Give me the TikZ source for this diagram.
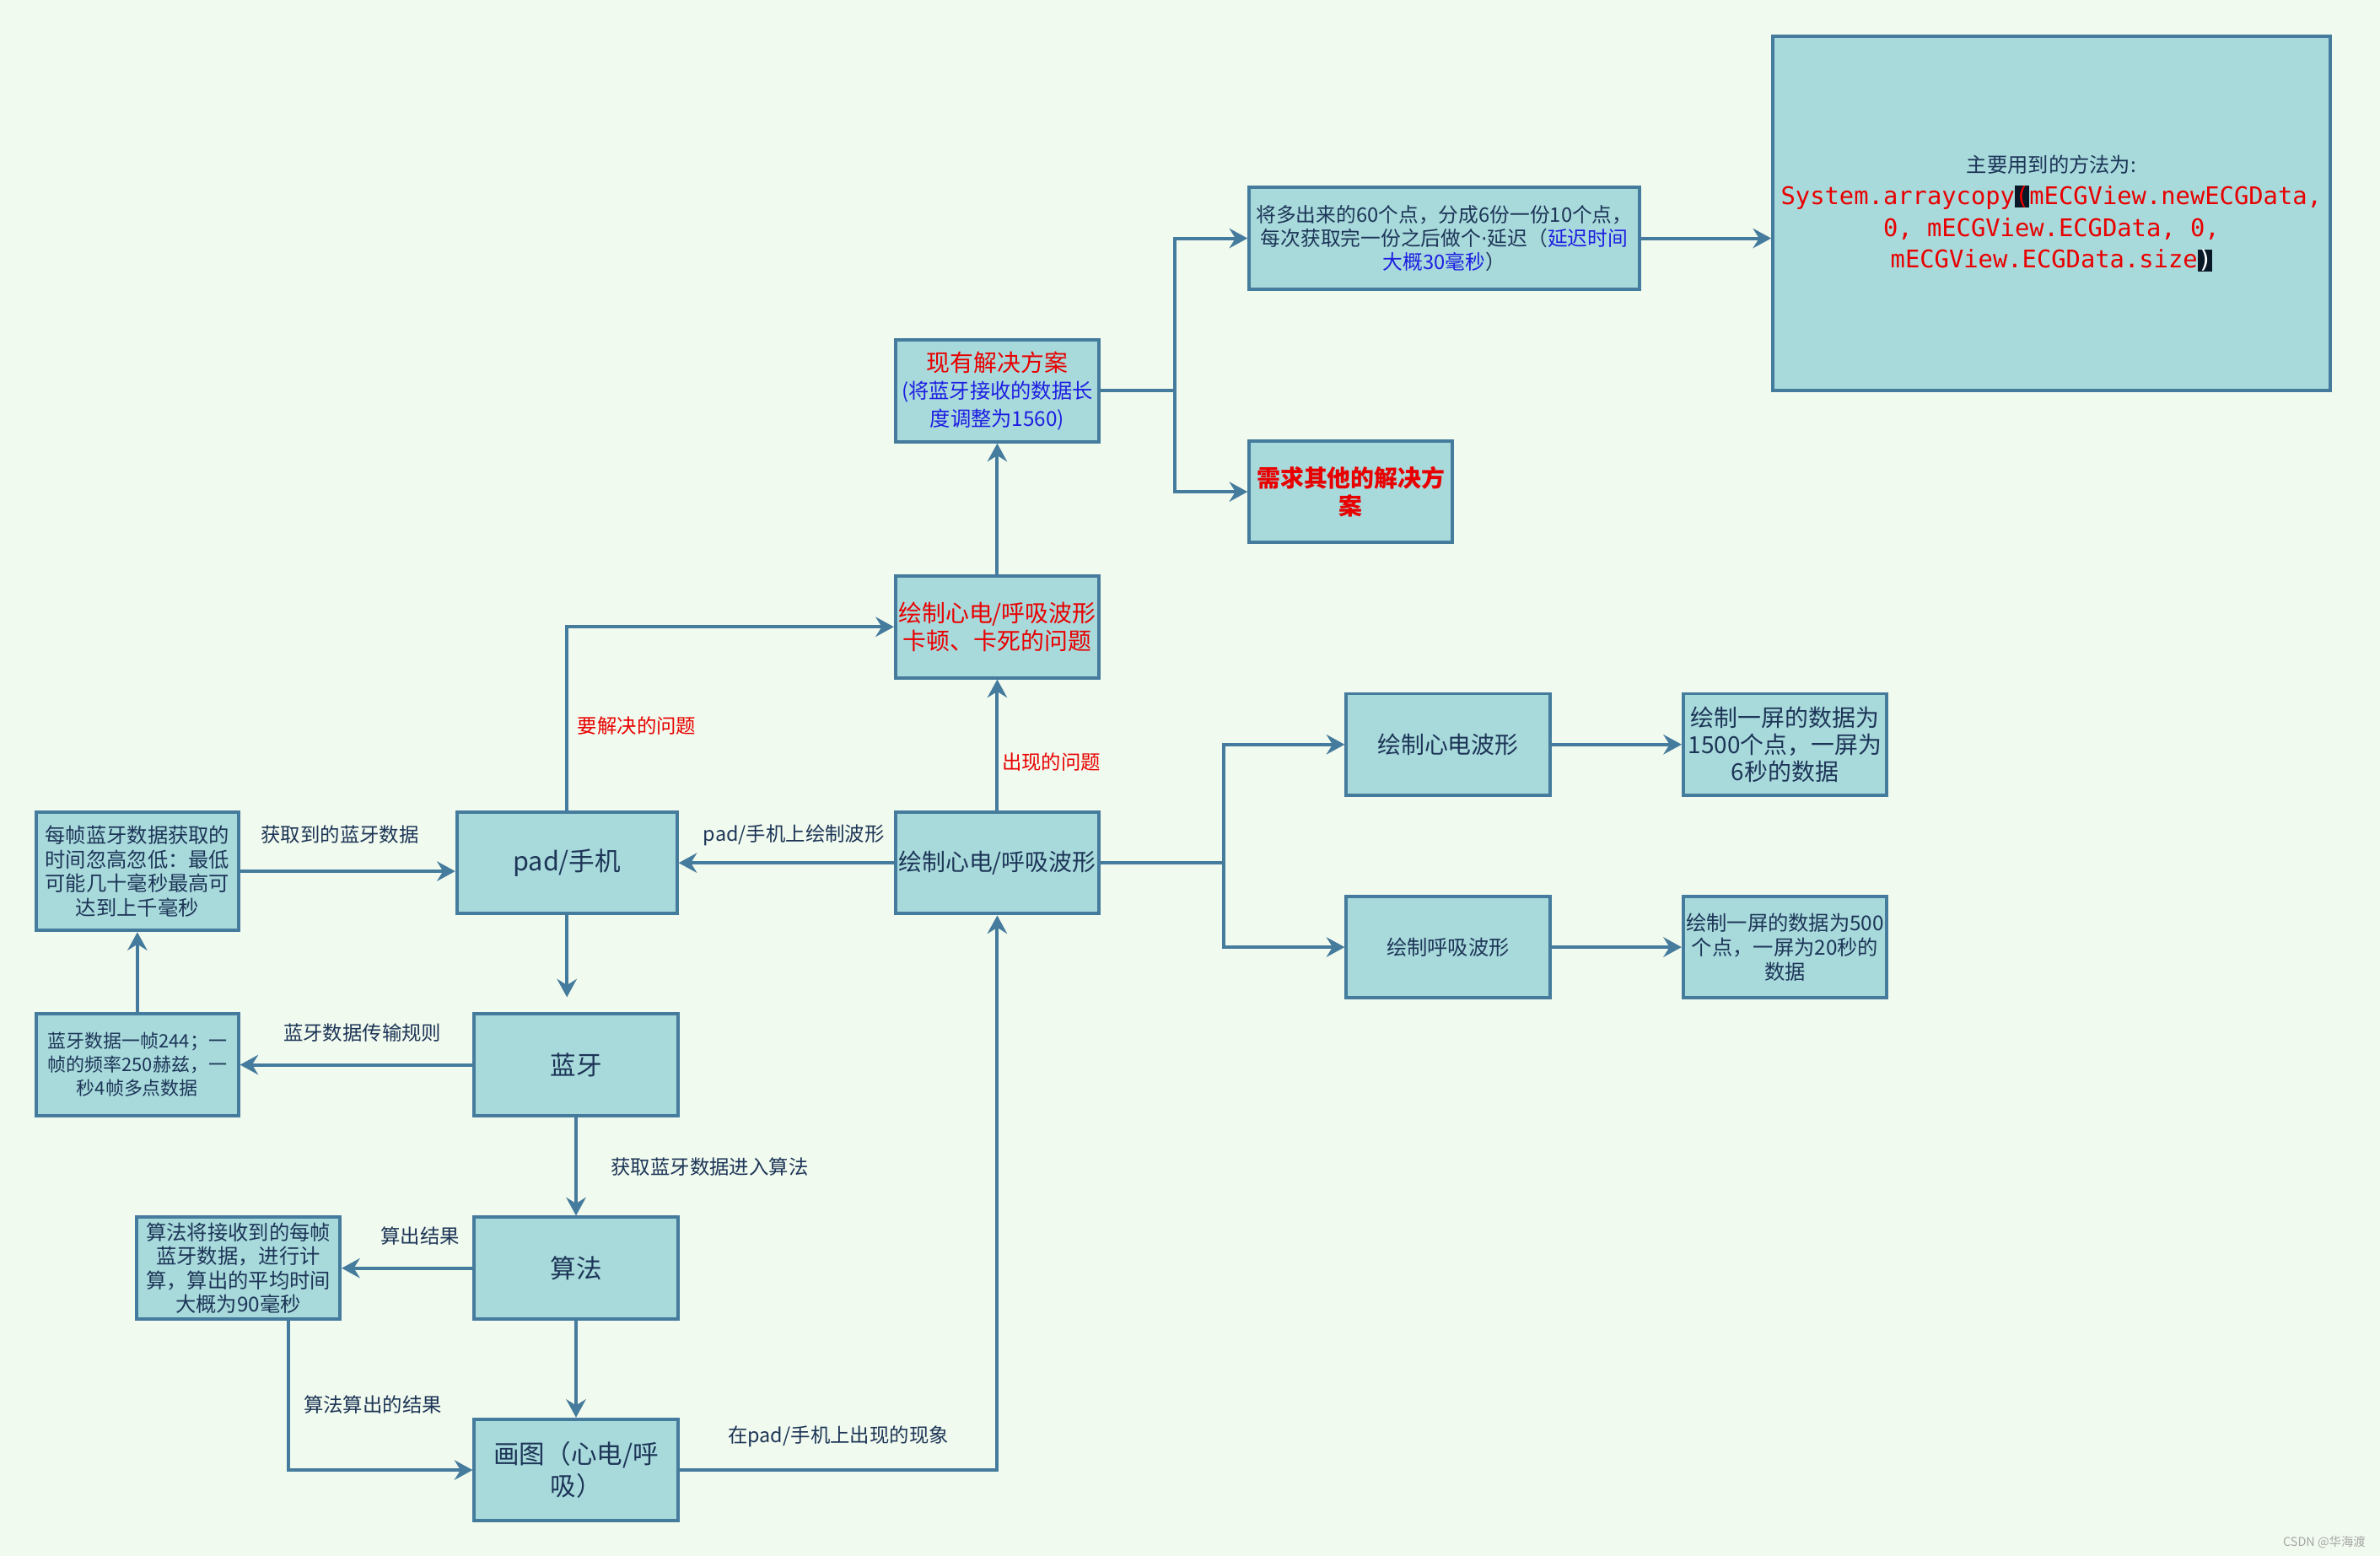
\documentclass[tikz,border=0pt]{standalone}
\usepackage{fontspec}
\setmainfont{Noto Sans CJK SC}
\newfontfamily\codefont{DejaVu Sans Mono}
\newfontfamily\dotfont{DejaVu Sans}
\usetikzlibrary{arrows.meta}

\definecolor{bgcol}{RGB}{241,250,238}
\definecolor{boxfill}{RGB}{168,218,220}
\definecolor{linecol}{RGB}{69,123,157}
\definecolor{inkcol}{RGB}{29,53,87}
\definecolor{redtxt}{RGB}{232,0,0}
\definecolor{bluetxt}{RGB}{30,30,225}
\definecolor{hlcol}{RGB}{8,24,38}

\newcommand\fsbig{\fontsize{17}{21}\selectfont}
\newcommand\fsmid{\fontsize{15.5}{18.5}\selectfont}
\newcommand\fssmall{\fontsize{13.5}{15.8}\selectfont}
\newcommand\fscode{\fontsize{16}{21}\selectfont}
\newcommand\hlpar[2]{{\fboxsep=0pt\colorbox{hlcol}{\textcolor{#1}{#2}}}}

\tikzset{
    box/.style={draw=linecol, fill=boxfill, line width=2.2pt, text=inkcol, align=center,
        minimum width=134pt, minimum height=67pt, inner sep=1pt},
    arr/.style={draw=linecol, line width=2.2pt, -{Stealth[length=12pt, width=13pt, inset=4pt]}},
    lbl/.style={text=inkcol, font=\fontsize{13}{15}\selectfont, inner sep=2pt},
}

\begin{document}
\begin{tikzpicture}[x=1pt, y=-1pt]
        \fill[bgcol] (0, 0) rectangle (1568, 1025);
        \useasboundingbox (0, 0) rectangle (1568, 1025);
        \node[box, minimum width=133pt, minimum height=78pt, font=\fssmall] (1) at (90.5, 574) {每帧蓝牙数据获取的\\时间忽高忽低：最低\\可能几十毫秒最高可\\达到上千毫秒};
        \node[box, minimum width=145pt, font=\fsbig] (2) at (373.5, 568.5) {pad/手机};
        \node[box, font=\fsmid] (3) at (657, 568.5) {绘制心电/呼吸波形};
        \node[box, font=\fontsize{15.5}{18}\selectfont, text=redtxt] (4) at (657, 413) {绘制心电/呼吸波形\\卡顿、卡死的问题};
        \node[box, font=\fontsize{13.5}{18}\selectfont] (5) at (657, 257.5) {{\fsmid\color{redtxt}现有解决方案}\\\textcolor{bluetxt}{(将蓝牙接收的数据长}\\\textcolor{bluetxt}{度调整为1560)}};
        \node[box, minimum width=257pt, font=\fontsize{13.2}{15.5}\selectfont] (6) at (951.5, 157) {将多出来的60个点，分成6份一份10个点，\\每次获取完一份之后做个{\dotfont·}延迟（\textcolor{bluetxt}{延迟时间}\\\textcolor{bluetxt}{大概30毫秒}）};
        \node[box, font=\fsmid\bfseries, text=redtxt] (7) at (890, 324) {需求其他的解决方\\案};
        \node[box, minimum width=367pt, minimum height=233pt, font=\fontsize{13.5}{21}\selectfont] (8) at (1351.5, 140.5) {主要用到的方法为:\\{\codefont\fscode\color{redtxt}System.arraycopy\hlpar{redtxt}{(}mECGView.newECGData,}\\{\codefont\fscode\color{redtxt}0, mECGView.ECGData, 0,}\\{\codefont\fscode\color{redtxt}mECGView.ECGData.size\hlpar{white}{)}}};
        \node[box, minimum width=133pt, inner sep=0pt, font=\fontsize{12.2}{15.5}\selectfont] (9) at (90.5, 701.5) {蓝牙数据一帧244；一\\帧的频率250赫兹，一\\秒4帧多点数据};
        \node[box, font=\fsbig] (10) at (379.5, 701.5) {蓝牙};
        \node[box, font=\fsbig] (11) at (379.5, 835.5) {算法};
        \node[box, font=\fssmall] (12) at (157, 835.5) {算法将接收到的每帧\\蓝牙数据，进行计\\算，算出的平均时间\\大概为90毫秒};
        \node[box, font=\fsbig] (13) at (379.5, 968.5) {画图（心电/呼\\吸）};
        \node[box, font=\fsmid] (14) at (954, 490.5) {绘制心电波形};
        \node[box, font=\fontsize{15.5}{18}\selectfont] (15) at (1176, 490.5) {绘制一屏的数据为\\1500个点，一屏为\\6秒的数据};
        \node[box, font=\fssmall] (16) at (954, 624) {绘制呼吸波形};
        \node[box, font=\fontsize{13.5}{16}\selectfont] (17) at (1176, 624) {绘制一屏的数据为500\\个点，一屏为20秒的\\数据};
        \node[text=gray!70, font=\fontsize{8}{9}\selectfont, anchor=east] (18) at (1562, 1016) {CSDN @华海渡};
        \coordinate (c1) at (373.5, 657);
        \draw[arr] (2.north) |- (4.west) node[lbl, text=redtxt, pos=0.23, right=4pt] {要解决的问题};
        \draw[arr] (1.east) -- (1.east -| 2.west) node[lbl, midway, above=15pt, xshift=-5pt] {获取到的蓝牙数据};
        \draw[arr] (3.west) -- (2.east) node[lbl, midway, above=8pt, xshift=5pt] {pad/手机上绘制波形};
        \draw[arr] (2.south) -- (c1);
        \draw[arr] (10.west) -- (9.east) node[lbl, midway, above=12pt, xshift=4pt] {蓝牙数据传输规则};
        \draw[arr] (9.north) -- (1.south);
        \draw[arr] (10.south) -- (11.north) node[lbl, midway, right=20pt] {获取蓝牙数据进入算法};
        \draw[arr] (11.west) -- (12.east) node[lbl, pos=0.4, above=12pt] {算出结果};
        \draw[arr] (11.south) -- (13.north);
        \draw[arr] ([xshift=33pt]12.south) |- (13.west) node[lbl, pos=0.28, right=7pt] {算法算出的结果};
        \draw[arr] (13.east) -| (3.south) node[lbl, pos=0.25, above=12pt] {在pad/手机上出现的现象};
        \draw[arr] (3.north) -- (4.south) node[lbl, text=redtxt, pos=0.37, right=0pt] {出现的问题};
        \draw[arr] (4.north) -- (5.south);
        \draw[arr] (5.east) -- ++(49, 0) |- (6.west);
        \draw[arr] (5.east) -- ++(49, 0) |- (7.west);
        \draw[arr] (6.east) -- (6.east -| 8.west);
        \draw[arr] (3.east) -- ++(81, 0) |- (14.west);
        \draw[arr] (3.east) -- ++(81, 0) |- (16.west);
        \draw[arr] (14.east) -- (15.west);
        \draw[arr] (16.east) -- (17.west);
\end{tikzpicture}
\end{document}
